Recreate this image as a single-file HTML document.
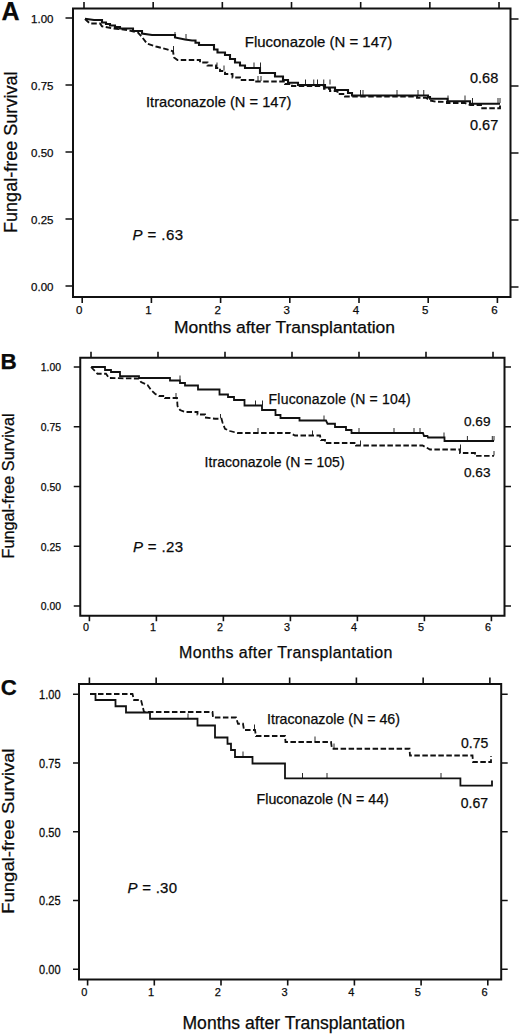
<!DOCTYPE html><html><head><meta charset="utf-8"><title>Fungal-free survival</title>
<style>html,body{margin:0;padding:0;background:#fff}body{width:520px;height:1034px;overflow:hidden}svg{display:block}text{font-family:"Liberation Sans",sans-serif;fill:#0a0a0a;stroke:#0a0a0a;stroke-width:0.25px}.tl{font-size:11.5px}.lb{font-size:15px}</style></head><body>
<svg width="520" height="1034" viewBox="0 0 520 1034">
<rect width="520" height="1034" fill="#fff"/>
<g id="pa" fill="none" stroke="#111"><rect x="73" y="8.5" width="437.5" height="288.5" stroke-width="2"/><path d="M84,8.5V2M82.2,297V303M153.17,8.5V2M151.4,297V303M222.34,8.5V2M220.6,297V303M291.51,8.5V2M289.8,297V303M360.68,8.5V2M359,297V303M429.85,8.5V2M428.2,297V303M499.02,8.5V2M497.4,297V303M73,18H65.5M510.5,19H518.5M73,85H65.5M510.5,86H518.5M73,152H65.5M510.5,153H518.5M73,219H65.5M510.5,220H518.5M73,286H65.5M510.5,287H518.5" stroke-width="1.6"/></g>
<path d="M85,18.7 L94,20 L102,20 L102,22.5 L106,22.5 L106,24 L110,24 L110,25.5 L115,25.5 L115,27 L120,27 L120,28.5 L133,28.5 L133,31 L142,31 L142,33.5 L152,35 L175,35 L175,37.5 L185,39.5 L192,40.5 L195.5,40.5 L195.5,42.75 L199,42.75 L199,45 L214,45 L214,49.5 L217.5,49.5 L217.5,52.5 L225,52.5 L225,55 L230,55 L230,59 L235,59 L235,62.5 L240,62.5 L240,65.5 L245,65.5 L245,68 L260,68 L260,73 L275,73 L275,76.5 L283,76.5 L283,80 L288,80 L288,82.75 L298,82.75 L298,85 L325,85 L325,87.5 L335,87.5 L335,90 L348,90 L348,93 L352,93 L352,95.5 L426,95.5 L428,95.5 L428,97.12 L430,97.12 L430,98.75 L447.5,98.75 L447.5,101.25 L465,101.25 L470,101.25 L470,103.75 L500,103.75" fill="none" stroke="#111" stroke-width="2.1"/>
<path d="M85,19 L90,23.5 L100,23.5 L102,26.3 L113,28.5 L127,30 L138,32.5 L142,37 L147,43.6 L156,46.5 L167,49.4 L173,51.3 L174,57.5 L177.5,60 L200,60 L200,62.5 L207.5,62.5 L207.5,65.5 L216,65.5 L216,68 L220,68 L220,71 L225,71 L225,74 L232.5,74 L232.5,77.5 L240,77.5 L240,80 L255,80 L255,81.5 L285,81.5 L285,84 L292,84 L292,86 L324,86 L324,88.75 L330,88.75 L330,91 L337.5,91 L337.5,94 L345,94 L345,96.5 L417,96.5 L417,97.8 L426,97.8 L430,100.5 L436,101.75 L447,102 L447,103 L465,103 L470,105 L481,105 L481,108.3 L500,108.3 L500,103" fill="none" stroke="#111" stroke-width="1.9" stroke-dasharray="5.5 2.5"/>
<path d="M175,37v-5M186,39v-5M254,67.5v-5M260.5,67.5v-5M305.5,84.5v-5M313.75,84.5v-5M317.5,84.5v-5M323.75,84.5v-5M330,84.5v-5M360.5,95v-5M363,95v-5M397,95v-5M418,95v-5M423.75,95v-5M448,100.5v-5M465,100.5v-5M472.5,103v-5M498,103v-5M500,103v-5M173.5,51v-5M217,67.5v-5M224,70.5v-5M258,81v-5M261,81v-5" fill="none" stroke="#111" stroke-width="0.9"/>
<text x="1.5" y="19.8" font-size="25" font-weight="bold">A</text>
<text class="tl" x="53.5" y="23.2" text-anchor="end">1.00</text>
<text class="tl" x="53.5" y="90.2" text-anchor="end">0.75</text>
<text class="tl" x="53.5" y="157.2" text-anchor="end">0.50</text>
<text class="tl" x="53.5" y="224.2" text-anchor="end">0.25</text>
<text class="tl" x="53.5" y="291.2" text-anchor="end">0.00</text>
<text class="tl" x="79.2" y="313.6" text-anchor="middle" font-size="11">0</text>
<text class="tl" x="148.4" y="313.6" text-anchor="middle" font-size="11">1</text>
<text class="tl" x="217.6" y="313.6" text-anchor="middle" font-size="11">2</text>
<text class="tl" x="286.8" y="313.6" text-anchor="middle" font-size="11">3</text>
<text class="tl" x="356" y="313.6" text-anchor="middle" font-size="11">4</text>
<text class="tl" x="425.2" y="313.6" text-anchor="middle" font-size="11">5</text>
<text class="tl" x="494.4" y="313.6" text-anchor="middle" font-size="11">6</text>
<text x="174" y="332.5" font-size="17.4" textLength="221" lengthAdjust="spacingAndGlyphs">Months after Transplantation</text>
<text transform="translate(17.4,233) rotate(-90)" font-size="17.5" textLength="161.5" lengthAdjust="spacingAndGlyphs">Fungal-free Survival</text>
<text class="lb" x="244.8" y="47.2" textLength="147.5" lengthAdjust="spacingAndGlyphs">Fluconazole (N = 147)</text>
<text class="lb" x="146" y="107" textLength="145.5" lengthAdjust="spacingAndGlyphs">Itraconazole (N = 147)</text>
<text x="470" y="83.2" font-size="14.5">0.68</text>
<text x="470" y="129.7" font-size="14.5">0.67</text>
<text class="lb" x="132.5" y="240" textLength="50.5" lengthAdjust="spacing"><tspan font-style="italic">P</tspan> = .63</text>
<g id="pb" fill="none" stroke="#111"><rect x="80.25" y="357.75" width="424.25" height="258.0" stroke-width="2"/><path d="M91,357.75V351.75M89.4,615.75V621.25M158,357.75V351.75M156.4,615.75V621.25M225,357.75V351.75M223.4,615.75V621.25M292,357.75V351.75M290.4,615.75V621.25M359,357.75V351.75M357.4,615.75V621.25M426,357.75V351.75M424.4,615.75V621.25M493,357.75V351.75M491.4,615.75V621.25M80.25,367H73.75M504.5,367H511M80.25,426.75H73.75M504.5,426.75H511M80.25,486.5H73.75M504.5,486.5H511M80.25,546.25H73.75M504.5,546.25H511M80.25,606H73.75M504.5,606H511" stroke-width="1.6"/></g>
<path d="M91.25,367 L105,367 L105,370 L111,370 L111,372 L120,372 L120,376.25 L139,376.25 L139,378 L170,378 L170,380.5 L180,380.5 L180,383 L185,383 L185,385.5 L198,385.5 L198,389.5 L219.5,389.5 L219.5,394.5 L228,394.5 L228,397 L234,397 L234,400 L244.5,400 L244.5,405.5 L262,405.5 L262,410 L275.5,410 L275.5,415 L280.5,415 L280.5,418 L299.5,418 L299.5,420.5 L326,420.5 L327.5,423.75 L335,423.75 L335,427 L346,427 L346,430 L351.5,430 L351.5,433 L423,433 L424,436 L427.5,436 L428,437.5 L444.5,437.5 L444.5,441 L494,441" fill="none" stroke="#111" stroke-width="1.8"/>
<path d="M91,367 L97.5,373.75 L106,373.75 L109,378 L139,378.6 L141,382 L147.5,385 L151,390 L155,393.75 L159,396 L165,396 L165,398 L177,398 L177.5,406 L180,410 L185,412 L197.5,412 L197.5,414.5 L205,414.5 L205,417.5 L215,418.75 L221.5,418.75 L222.5,422.5 L225,428.75 L230,431 L237.5,433 L290,433 L295,435.5 L320,435.5 L321,440 L325,440 L325,443 L356,443 L356,445.5 L422.5,445.5 L430,449.5 L460,449.5 L460,453 L475,453 L475,455.8 L494,455.8" fill="none" stroke="#111" stroke-width="1.8" stroke-dasharray="5.5 2.5"/>
<path d="M180,380v-4.5M255.5,405v-4.5M262.5,405v-4.5M324,420v-4.5M359,432.5v-4.5M394,432.5v-4.5M414,432.5v-4.5M420,432.5v-4.5M444,437v-4.5M467.4,440.5v-4.5M492.3,440.5v-4.5M494,440.5v-4.5M176,397.5v-4.5M220.5,418.5v-4.5M258,432.5v-4.5M312.5,435v-4.5M360.5,445v-4.5M460.5,449v-4.5M494,455.5v-4.5" fill="none" stroke="#111" stroke-width="0.9"/>
<text x="0.5" y="369.4" font-size="22.5" font-weight="bold">B</text>
<text x="61" y="371.3" text-anchor="end" font-size="10.4">1.00</text>
<text x="61" y="431.05" text-anchor="end" font-size="10.4">0.75</text>
<text x="61" y="490.8" text-anchor="end" font-size="10.4">0.50</text>
<text x="61" y="550.55" text-anchor="end" font-size="10.4">0.25</text>
<text x="61" y="610.3" text-anchor="end" font-size="10.4">0.00</text>
<text x="86" y="630.5" text-anchor="middle" font-size="10.8">0</text>
<text x="153" y="630.5" text-anchor="middle" font-size="10.8">1</text>
<text x="220" y="630.5" text-anchor="middle" font-size="10.8">2</text>
<text x="287" y="630.5" text-anchor="middle" font-size="10.8">3</text>
<text x="354" y="630.5" text-anchor="middle" font-size="10.8">4</text>
<text x="421" y="630.5" text-anchor="middle" font-size="10.8">5</text>
<text x="488" y="630.5" text-anchor="middle" font-size="10.8">6</text>
<text x="179" y="657.5" font-size="16" textLength="213.5" lengthAdjust="spacing">Months after Transplantation</text>
<text transform="translate(13.9,558.5) rotate(-90)" font-size="16" textLength="145" lengthAdjust="spacingAndGlyphs">Fungal-free Survival</text>
<text x="268.6" y="403.7" font-size="14" textLength="142" lengthAdjust="spacing">Fluconazole (N = 104)</text>
<text x="204.6" y="467" font-size="14" textLength="140" lengthAdjust="spacing">Itraconazole (N = 105)</text>
<text x="464" y="425.5" font-size="13.6">0.69</text>
<text x="464" y="477.3" font-size="13.6">0.63</text>
<text class="lb" x="133" y="551.75" textLength="50" lengthAdjust="spacing"><tspan font-style="italic">P</tspan> = .23</text>
<g id="pc" fill="none" stroke="#111"><rect x="79" y="684" width="422.2" height="295.5" stroke-width="2"/><path d="M89.4,684V677.5M87.6,979.5V985.5M156.15,684V677.5M154.3,979.5V985.5M222.9,684V677.5M221,979.5V985.5M289.65,684V677.5M287.7,979.5V985.5M356.4,684V677.5M354.4,979.5V985.5M423.15,684V677.5M421.1,979.5V985.5M489.9,684V677.5M487.8,979.5V985.5M79,694.25H73M501.2,694.25H507.7M79,763H73M501.2,763H507.7M79,831.75H73M501.2,831.75H507.7M79,900.5H73M501.2,900.5H507.7M79,969.25H73M501.2,969.25H507.7" stroke-width="1.6"/></g>
<path d="M90,694 L95.5,694 L95.5,700 L115.5,700 L115.5,706.25 L126,706.25 L126,712.5 L150,712.5 L150,718.75 L197.5,718.75 L197.5,725.5 L215,725.5 L215,737.5 L227.5,737.5 L227.5,743.75 L231,743.75 L231,750 L235,750 L235,757 L252.5,757 L252.5,763.5 L285,763.5 L285,778.3 L460.4,778.3 L460.4,785.7 L492,785.7 L492,780.5" fill="none" stroke="#111" stroke-width="1.8"/>
<path d="M90,694 L132.5,694 L134,700 L141,700 L144,712 L212.5,712 L213,717.5 L236,717.5 L238,723.75 L243,723.75 L244,730 L255,730 L256,736 L285,736 L285.5,742 L331,742 L332,748.75 L409.5,748.75 L410,755.5 L472.5,755.5 L473,762 L491,762 L491,756" fill="none" stroke="#111" stroke-width="1.8" stroke-dasharray="5.5 2.5"/>
<path d="M188,718.5v-5M243,756.5v-5M302.5,778v-5M327,778v-5M441,778v-5M254.5,729.5v-5M315,741.5v-5M334,748.5v-5" fill="none" stroke="#111" stroke-width="0.9"/>
<text x="0.8" y="695.3" font-size="22.3" font-weight="bold">C</text>
<text transform="translate(60.5,699.05) scale(1,1.1)" text-anchor="end" font-size="11">1.00</text>
<text transform="translate(60.5,767.8) scale(1,1.1)" text-anchor="end" font-size="11">0.75</text>
<text transform="translate(60.5,836.55) scale(1,1.1)" text-anchor="end" font-size="11">0.50</text>
<text transform="translate(60.5,905.3) scale(1,1.1)" text-anchor="end" font-size="11">0.25</text>
<text transform="translate(60.5,974.05) scale(1,1.1)" text-anchor="end" font-size="11">0.00</text>
<text x="84.4" y="996" text-anchor="middle" font-size="11">0</text>
<text x="151.1" y="996" text-anchor="middle" font-size="11">1</text>
<text x="217.8" y="996" text-anchor="middle" font-size="11">2</text>
<text x="284.5" y="996" text-anchor="middle" font-size="11">3</text>
<text x="351.2" y="996" text-anchor="middle" font-size="11">4</text>
<text x="417.9" y="996" text-anchor="middle" font-size="11">5</text>
<text x="484.6" y="996" text-anchor="middle" font-size="11">6</text>
<text x="182.5" y="1029" font-size="17.5" textLength="222.5" lengthAdjust="spacingAndGlyphs">Months after Transplantation</text>
<text transform="translate(13.9,913.75) rotate(-90)" font-size="16" textLength="165.4" lengthAdjust="spacingAndGlyphs">Fungal-free Survival</text>
<text x="267" y="723.5" font-size="14.5" textLength="133" lengthAdjust="spacingAndGlyphs">Itraconazole (N = 46)</text>
<text x="256.6" y="803.8" font-size="14.5" textLength="132.2" lengthAdjust="spacingAndGlyphs">Fluconazole (N = 44)</text>
<text x="461" y="748" font-size="14">0.75</text>
<text x="460.8" y="807.5" font-size="14">0.67</text>
<text class="lb" x="127.5" y="892.5" textLength="49.5" lengthAdjust="spacing"><tspan font-style="italic">P</tspan> = .30</text>
</svg></body></html>
